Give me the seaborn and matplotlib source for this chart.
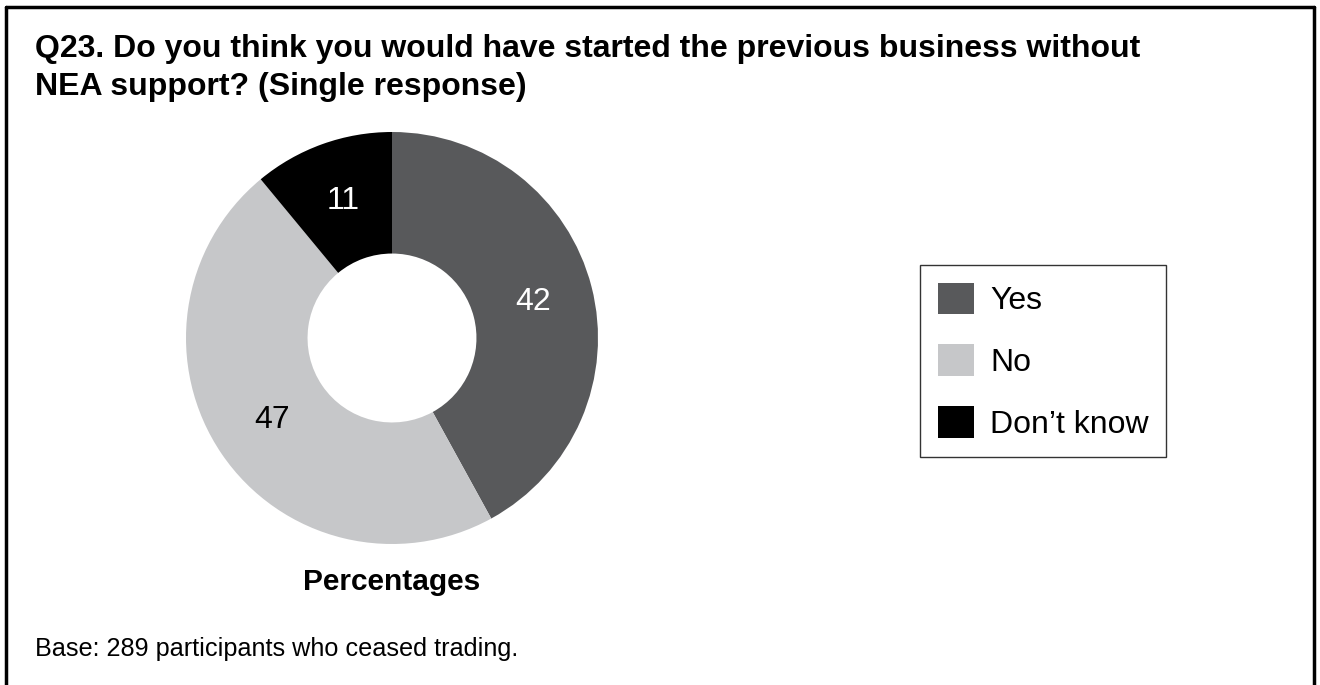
import matplotlib.pyplot as plt
import seaborn as sns
from matplotlib.lines import Line2D
from matplotlib.patches import Patch

# data
categories = ["Yes", "No", "Don\u2019t know"]
values = [42, 47, 11]
colors = ["#58595b", "#c6c7c9", "#000000"]
label_colors = ["white", "black", "white"]

sns.set_theme(style="white")
plt.rcParams['font.family'] = ['Liberation Sans', 'DejaVu Sans']
plt.rcParams['text.color'] = 'black'

W, H = 1320, 685
fig = plt.figure(figsize=(W / 100, H / 100), dpi=100)
fig.patch.set_facecolor("white")

# frame (open at the bottom)
lw = 2.5
fig.add_artist(Line2D([6 / W, 6 / W], [0, 1 - 7 / H], color="black", lw=lw))
fig.add_artist(Line2D([6 / W, 1314 / W], [1 - 7 / H, 1 - 7 / H], color="black", lw=lw))
fig.add_artist(Line2D([1314 / W, 1314 / W], [0, 1 - 7 / H], color="black", lw=lw))

# title
fig.text(35 / W, 1 - 57 / H, "Q23. Do you think you would have started the previous business without",
         fontsize=23, fontweight="bold", va="baseline", ha="left", color="black")
fig.text(35 / W, 1 - 95 / H, "NEA support? (Single response)",
         fontsize=23, fontweight="bold", va="baseline", ha="left", color="black")

# donut
cx, cy, r = 392, 338, 206
ax = fig.add_axes([(cx - r) / W, 1 - (cy + r) / H, 2 * r / W, 2 * r / H])
wedges, texts, autotexts = ax.pie(values, colors=colors, startangle=90, counterclock=False,
                                  radius=1, wedgeprops=dict(width=0.59, linewidth=0),
                                  autopct=lambda p: f"{p:.0f}", pctdistance=0.705,
                                  textprops=dict(fontsize=23))
for t, c in zip(autotexts, label_colors):
    t.set_color(c)
ax.set_xlim(-1, 1)
ax.set_ylim(-1, 1)
ax.set_aspect("equal")
ax.axis("off")

fig.text(cx / W, 1 - 590 / H, "Percentages", fontsize=21.5, fontweight="bold",
         ha="center", va="baseline", color="black")
fig.text(35 / W, 1 - 649 / H, "Base: 289 participants who ceased trading.", fontsize=18.2,
         ha="left", va="center", color="black")

# legend
handles = [Patch(facecolor=c, edgecolor="none") for c in colors]
leg = fig.legend(handles, categories, loc="upper left", bbox_to_anchor=(920 / W, 1 - 265 / H),
                 frameon=True, fancybox=False, fontsize=23, handlelength=1.15, handleheight=1.15,
                 labelspacing=0.88, borderpad=0.55, handletextpad=0.5, borderaxespad=0)
leg.get_frame().set_edgecolor("black")
leg.get_frame().set_linewidth(1.0)
for t in leg.get_texts():
    t.set_color("black")

fig.savefig("out.png", dpi=100)
